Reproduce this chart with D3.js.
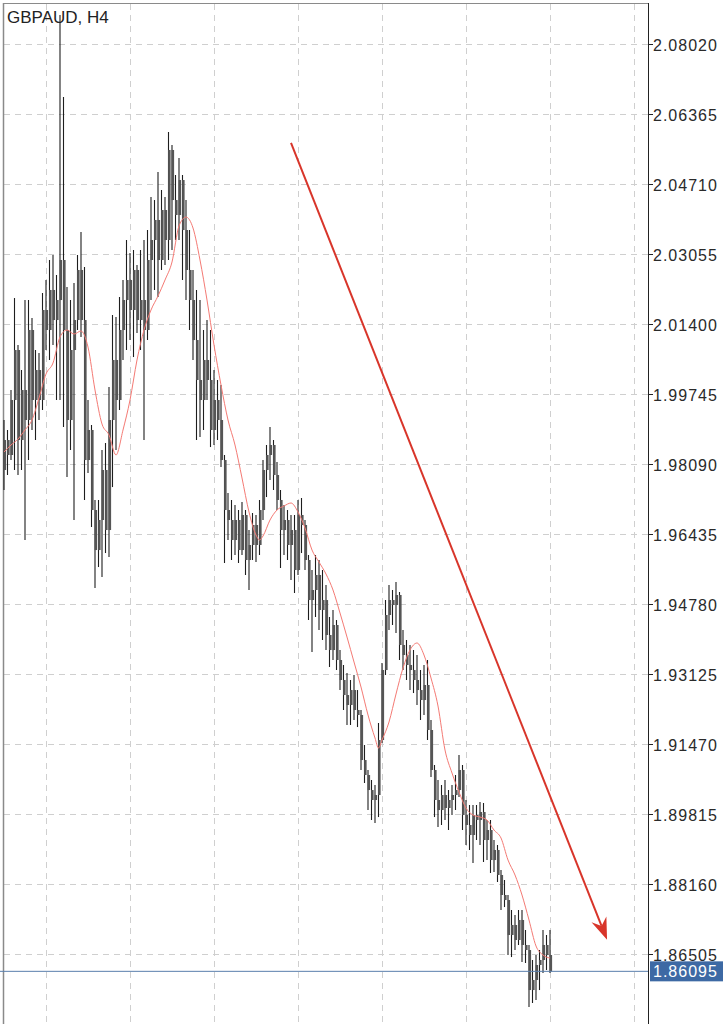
<!DOCTYPE html>
<html><head><meta charset="utf-8">
<script src="https://cdn.jsdelivr.net/npm/d3@7"></script>
<style>html,body{margin:0;padding:0;background:#fff;}svg{display:block;}</style>
</head><body>
<svg id="c" width="725" height="1024"></svg>
<script>
const symbolTitle = "GBPAUD, H4";
const tickLabels = ["2.08020","2.06365","2.04710","2.03055","2.01400","1.99745","1.98090","1.96435","1.94780","1.93125","1.91470","1.89815","1.88160","1.86505"];
const lastPrice = 1.86095;
const gridBars = [12,36,60,84,108,132,156,180];

const opens = [1.97948,1.98657,1.98303,1.99603,2.00785,1.98657,1.99839,1.99130,2.01258,1.99603,
2.00312,1.99603,2.01731,2.01258,2.02204,2.01494,2.01967,2.02913,2.01258,1.99130,
2.00785,2.01494,2.02677,2.01494,1.98184,1.98894,1.97002,1.96056,1.96766,1.97948,
1.96529,1.99130,2.00549,1.99603,2.01258,2.01967,2.02440,2.01731,2.02677,2.01494,
2.01967,2.01258,2.02913,2.03386,2.03859,2.02913,2.04095,2.03386,2.05514,2.04331,
2.03977,2.04804,2.03622,2.02677,2.01967,2.01021,2.00076,1.99603,2.00549,2.00076,
1.98894,1.99603,1.99130,1.98184,1.97002,1.96766,1.96293,1.96766,1.96056,1.96884,
1.95820,1.96175,1.96648,1.96175,1.97002,1.97948,1.98303,1.98539,1.97830,1.97239,
1.96529,1.96766,1.96175,1.96529,1.95584,1.96884,1.96648,1.95820,1.94874,1.95111,
1.95466,1.94638,1.94874,1.94047,1.93692,1.94283,1.93456,1.92983,1.92628,1.92392,
1.92746,1.92274,1.92156,1.91091,1.90737,1.90382,1.90146,1.90264,1.91564,1.93219,
1.94520,1.94874,1.94756,1.94993,1.93811,1.93574,1.93338,1.93219,1.92983,1.92746,
1.92510,1.92865,1.91801,1.90855,1.90146,1.89909,1.90264,1.89957,1.90146,1.90264,
1.90382,1.90855,1.89791,1.89555,1.89318,1.89791,1.89673,1.89862,1.89200,1.89436,
1.88727,1.88964,1.88373,1.87900,1.87781,1.86954,1.87191,1.86836,1.87309,1.86718,
1.86599,1.85653,1.85890,1.86245,1.86363,1.86718,1.86481];

const highs = [1.99130,1.98894,1.99839,2.02014,2.00903,2.00312,2.01967,2.01967,2.01542,2.00785,
2.00714,2.02133,2.02440,2.02913,2.03031,2.02559,2.08705,2.06766,2.02274,2.01967,
2.02369,2.03031,2.03575,2.02747,1.99603,1.99012,1.97239,1.97239,1.98421,1.98586,
1.99910,2.01613,2.01565,2.02038,2.02440,2.03386,2.03078,2.03149,2.02795,2.03149,
2.03386,2.03622,2.04402,2.04331,2.04994,2.04568,2.04402,2.05939,2.05632,2.04923,
2.05324,2.04923,2.04331,2.03622,2.02677,2.02204,2.01967,2.01258,2.01494,2.01258,
2.00312,2.00076,1.99958,1.98303,1.97404,1.97239,1.97121,1.97002,1.97192,1.97002,
1.96529,1.96931,1.96884,1.97239,1.98184,1.98539,1.98965,1.98657,1.98137,1.97475,
1.97121,1.97002,1.96884,1.96884,1.97239,1.97286,1.96766,1.95938,1.95584,1.95938,
1.95820,1.95584,1.95229,1.94472,1.94638,1.94401,1.93692,1.93338,1.93148,1.92983,
1.93101,1.92746,1.92274,1.91446,1.90855,1.90619,1.90501,1.91966,1.93385,1.94874,
1.95229,1.95111,1.95300,1.95064,1.94165,1.93929,1.93811,1.93692,1.93574,1.93219,
1.93338,1.93456,1.92037,1.90973,1.90619,1.90501,1.90619,1.90382,1.90501,1.90737,
1.91210,1.90973,1.90146,1.90028,1.90028,1.90028,1.90099,1.90075,1.89673,1.89673,
1.89200,1.89082,1.88491,1.88254,1.87900,1.87545,1.87427,1.87545,1.87545,1.87072,
1.86718,1.86363,1.86481,1.86599,1.87072,1.86954,1.87072];

const lows = [1.97475,1.97830,1.98184,1.97948,1.97830,1.97948,1.96293,1.98184,1.98894,1.98657,
1.99130,1.99366,2.00785,2.00549,2.00903,1.99603,1.99603,1.98965,1.97782,1.98421,
1.96766,2.01258,2.01092,1.97239,1.97877,1.96600,1.95158,1.95654,1.95418,1.95985,
1.95890,1.97545,1.98421,1.99366,2.00549,2.00785,2.01021,2.00619,2.01187,2.00785,
1.98657,2.01021,2.01967,2.02204,2.02038,2.02677,2.02795,2.02913,2.03149,2.03386,
2.03386,2.02440,2.01967,2.01258,2.00549,1.98657,1.98728,1.98894,1.99603,1.98491,
1.98539,1.98657,1.98018,1.95749,1.96293,1.95820,1.95938,1.95749,1.95938,1.95466,
1.95111,1.95820,1.95773,1.95938,1.96766,1.97309,1.97711,1.97475,1.97002,1.95631,
1.95938,1.95820,1.95347,1.95040,1.95466,1.95985,1.95584,1.94401,1.93645,1.94472,
1.94165,1.93929,1.93692,1.93290,1.93456,1.93219,1.92746,1.92274,1.91919,1.91919,
1.92037,1.91871,1.90855,1.90548,1.89909,1.89673,1.89602,1.89743,1.91493,1.93101,
1.94165,1.94283,1.94094,1.93456,1.93219,1.92983,1.92746,1.92675,1.92392,1.92037,
1.92156,1.91564,1.90689,1.89743,1.89507,1.89555,1.89673,1.89436,1.89791,1.89909,
1.90216,1.89436,1.89082,1.88964,1.88656,1.89200,1.89082,1.88680,1.88727,1.88420,
1.88444,1.88207,1.87545,1.87615,1.86481,1.86433,1.86599,1.86718,1.86316,1.86292,
1.85251,1.85346,1.85417,1.85653,1.86055,1.86126,1.86055];

const closes = [1.98657,1.98303,1.99603,2.00785,1.98657,1.99839,1.99130,2.01258,1.99603,2.00312,
1.99603,2.01731,2.01258,2.02204,2.01494,2.01967,2.02913,2.01258,1.99130,2.00785,
2.01494,2.02677,2.01494,1.98184,1.98894,1.97002,1.96056,1.96766,1.97948,1.96529,
1.99130,2.00549,1.99603,2.01258,2.01967,2.02440,2.01731,2.02677,2.01494,2.01967,
2.01258,2.02913,2.03386,2.03859,2.02913,2.04095,2.03386,2.05514,2.04331,2.03977,
2.04804,2.03622,2.02677,2.01967,2.01021,2.00076,1.99603,2.00549,2.00076,1.98894,
1.99603,1.99130,1.98184,1.97002,1.96766,1.96293,1.96766,1.96056,1.96884,1.95820,
1.96175,1.96648,1.96175,1.97002,1.97948,1.98303,1.98539,1.97830,1.97239,1.96529,
1.96766,1.96175,1.96529,1.95584,1.96884,1.96648,1.95820,1.94874,1.95111,1.95466,
1.94638,1.94874,1.94047,1.93692,1.94283,1.93456,1.92983,1.92628,1.92392,1.92746,
1.92274,1.92156,1.91091,1.90737,1.90382,1.90146,1.90264,1.91564,1.93219,1.94520,
1.94874,1.94756,1.94993,1.93811,1.93574,1.93338,1.93219,1.92983,1.92746,1.92510,
1.92865,1.91801,1.90855,1.90146,1.89909,1.90264,1.89957,1.90146,1.90264,1.90382,
1.90855,1.89791,1.89555,1.89318,1.89791,1.89673,1.89862,1.89200,1.89436,1.88727,
1.88964,1.88373,1.87900,1.87781,1.86954,1.87191,1.86836,1.87309,1.86718,1.86599,
1.85653,1.85890,1.86245,1.86363,1.86718,1.86481,1.86095];

const maBars = [0,2,4,6,8,10,12,14,16,18,20,22,24,26,28,30,32,34,36,38,40,42,44,46,48,50,52,54,56,58,60,62,64,66,68,70,72,73,74,76,78,80,82,84,86,88,90,92,94,96,98,100,102,104,106,107,108,110,112,114,116,118,120,122,124,126,128,130,132,134,136,138,140,142,144,146,148,150,152,154,156];
const maValues = [1.98374,1.98539,1.98681,1.98894,1.99130,1.99650,2.00217,2.00478,2.01092,2.01258,2.01163,2.01234,2.00855,1.99839,1.99035,1.98776,1.98303,1.98894,1.99603,2.00549,2.01258,2.01731,2.02062,2.02440,2.02866,2.03717,2.03929,2.03670,2.02913,2.01967,2.00903,1.99958,1.99130,1.98539,1.97759,1.96955,1.96411,1.96293,1.96387,1.96766,1.97002,1.97097,1.97168,1.96955,1.96577,1.96056,1.95773,1.95489,1.95111,1.94567,1.93999,1.93409,1.92817,1.92156,1.91612,1.91375,1.91564,1.91990,1.92651,1.93267,1.93692,1.93858,1.93574,1.93030,1.92368,1.91328,1.90784,1.90335,1.89957,1.89791,1.89743,1.89673,1.89436,1.89247,1.88727,1.88373,1.87900,1.87309,1.86694,1.86481,1.86410];

const arrowFrom = {bar: 82, price: 2.0568};
const arrowTo = {bar: 172.3, price: 1.8684};

const svg = d3.select("#c");
const W = 725, H = 1024, plotRight = 648;
const x = d3.scaleLinear().domain([0, 156]).range([4, 550]);
const y = d3.scaleLinear().domain([1.86505, 2.08020]).range([954, 44]);
const tickVals = tickLabels.map(Number);
const FONT = "Liberation Sans, Arial, sans-serif";

// grid
const g = svg.append("g");
g.selectAll("line.h").data(tickVals).enter().append("line")
  .attr("x1", 4).attr("x2", plotRight).attr("y1", d => Math.round(y(d)) + 0.5).attr("y2", d => Math.round(y(d)) + 0.5)
  .attr("stroke", "#cfcfcf").attr("stroke-width", 1).attr("stroke-dasharray", "6,5");
g.selectAll("line.v").data(gridBars).enter().append("line")
  .attr("x1", d => Math.round(x(d)) + 0.5).attr("x2", d => Math.round(x(d)) + 0.5).attr("y1", 4).attr("y2", H)
  .attr("stroke", "#cfcfcf").attr("stroke-width", 1).attr("stroke-dasharray", "6,5");

// frame
svg.append("line").attr("x1", 3.5).attr("x2", 3.5).attr("y1", 3).attr("y2", H).attr("stroke", "#8a8a8a").attr("stroke-width", 1.5);
svg.append("line").attr("x1", 3).attr("x2", plotRight).attr("y1", 3.5).attr("y2", 3.5).attr("stroke", "#8a8a8a").attr("stroke-width", 1);
svg.append("line").attr("x1", plotRight + 0.5).attr("x2", plotRight + 0.5).attr("y1", 3).attr("y2", H).attr("stroke", "#222").attr("stroke-width", 1);

// bars
const bars = svg.append("g");
closes.forEach((c, i) => {
  const cx = x(i);
  bars.append("line").attr("x1", cx).attr("x2", cx).attr("y1", y(highs[i])).attr("y2", y(lows[i]))
    .attr("stroke", "#1e1e1e").attr("stroke-width", 1.1);
  const top = Math.min(y(opens[i]), y(c)), bot = Math.max(y(opens[i]), y(c));
  bars.append("rect").attr("x", cx - 0.4).attr("width", 2.5).attr("y", top).attr("height", Math.max(1, bot - top))
    .attr("fill", "#555");
});

// moving average
svg.append("path").datum(maBars.map((b, k) => [b, maValues[k]]))
  .attr("d", d3.line().x(d => x(d[0])).y(d => y(d[1])).curve(d3.curveMonotoneX))
  .attr("fill", "none").attr("stroke", "#f47a74").attr("stroke-width", 1);

// price line
const yl = y(lastPrice);
svg.append("line").attr("x1", 0).attr("x2", plotRight).attr("y1", yl).attr("y2", yl)
  .attr("stroke", "#5a7fad").attr("stroke-width", 1);

// arrow
const ax1 = x(arrowFrom.bar), ay1 = y(arrowFrom.price), ax2 = x(arrowTo.bar), ay2 = y(arrowTo.price);
const len = Math.hypot(ax2 - ax1, ay2 - ay1), ux = (ax2 - ax1) / len, uy = (ay2 - ay1) / len;
const px = -uy, py = ux;
const hl = 22, hw = 8, notch = 15;
svg.append("line").attr("x1", ax1).attr("y1", ay1).attr("x2", ax2 - ux * notch).attr("y2", ay2 - uy * notch)
  .attr("stroke", "#d8352a").attr("stroke-width", 2);
const bx = ax2 - ux * hl, by = ay2 - uy * hl;
svg.append("path").attr("d", `M${ax2},${ay2} L${bx + px * hw},${by + py * hw} L${ax2 - ux * notch},${ay2 - uy * notch} L${bx - px * hw},${by - py * hw} Z`)
  .attr("fill", "#d8352a");

// axis ticks and labels
const ax = svg.append("g");
tickVals.forEach((v, k) => {
  const yy = Math.round(y(v)) + 0.5;
  ax.append("line").attr("x1", plotRight).attr("x2", plotRight + 5).attr("y1", yy).attr("y2", yy).attr("stroke", "#222");
  ax.append("text").attr("x", plotRight + 5).attr("y", yy + 6).text(tickLabels[k])
    .attr("font-family", FONT).attr("font-size", 16).attr("letter-spacing", 1)
    .attr("fill", "#2a2a2a");
});
svg.append("rect").attr("x", plotRight + 2).attr("y", yl - 10).attr("width", 73).attr("height", 20).attr("fill", "#3d69a4");
svg.append("text").attr("x", plotRight + 5).attr("y", yl + 6).text(lastPrice.toFixed(5))
  .attr("font-family", FONT).attr("font-size", 16).attr("letter-spacing", 1).attr("fill", "#fff");

svg.append("text").attr("x", 7).attr("y", 23).text(symbolTitle)
  .attr("font-family", FONT).attr("font-size", 17).attr("fill", "#222");
</script>
</body></html>
